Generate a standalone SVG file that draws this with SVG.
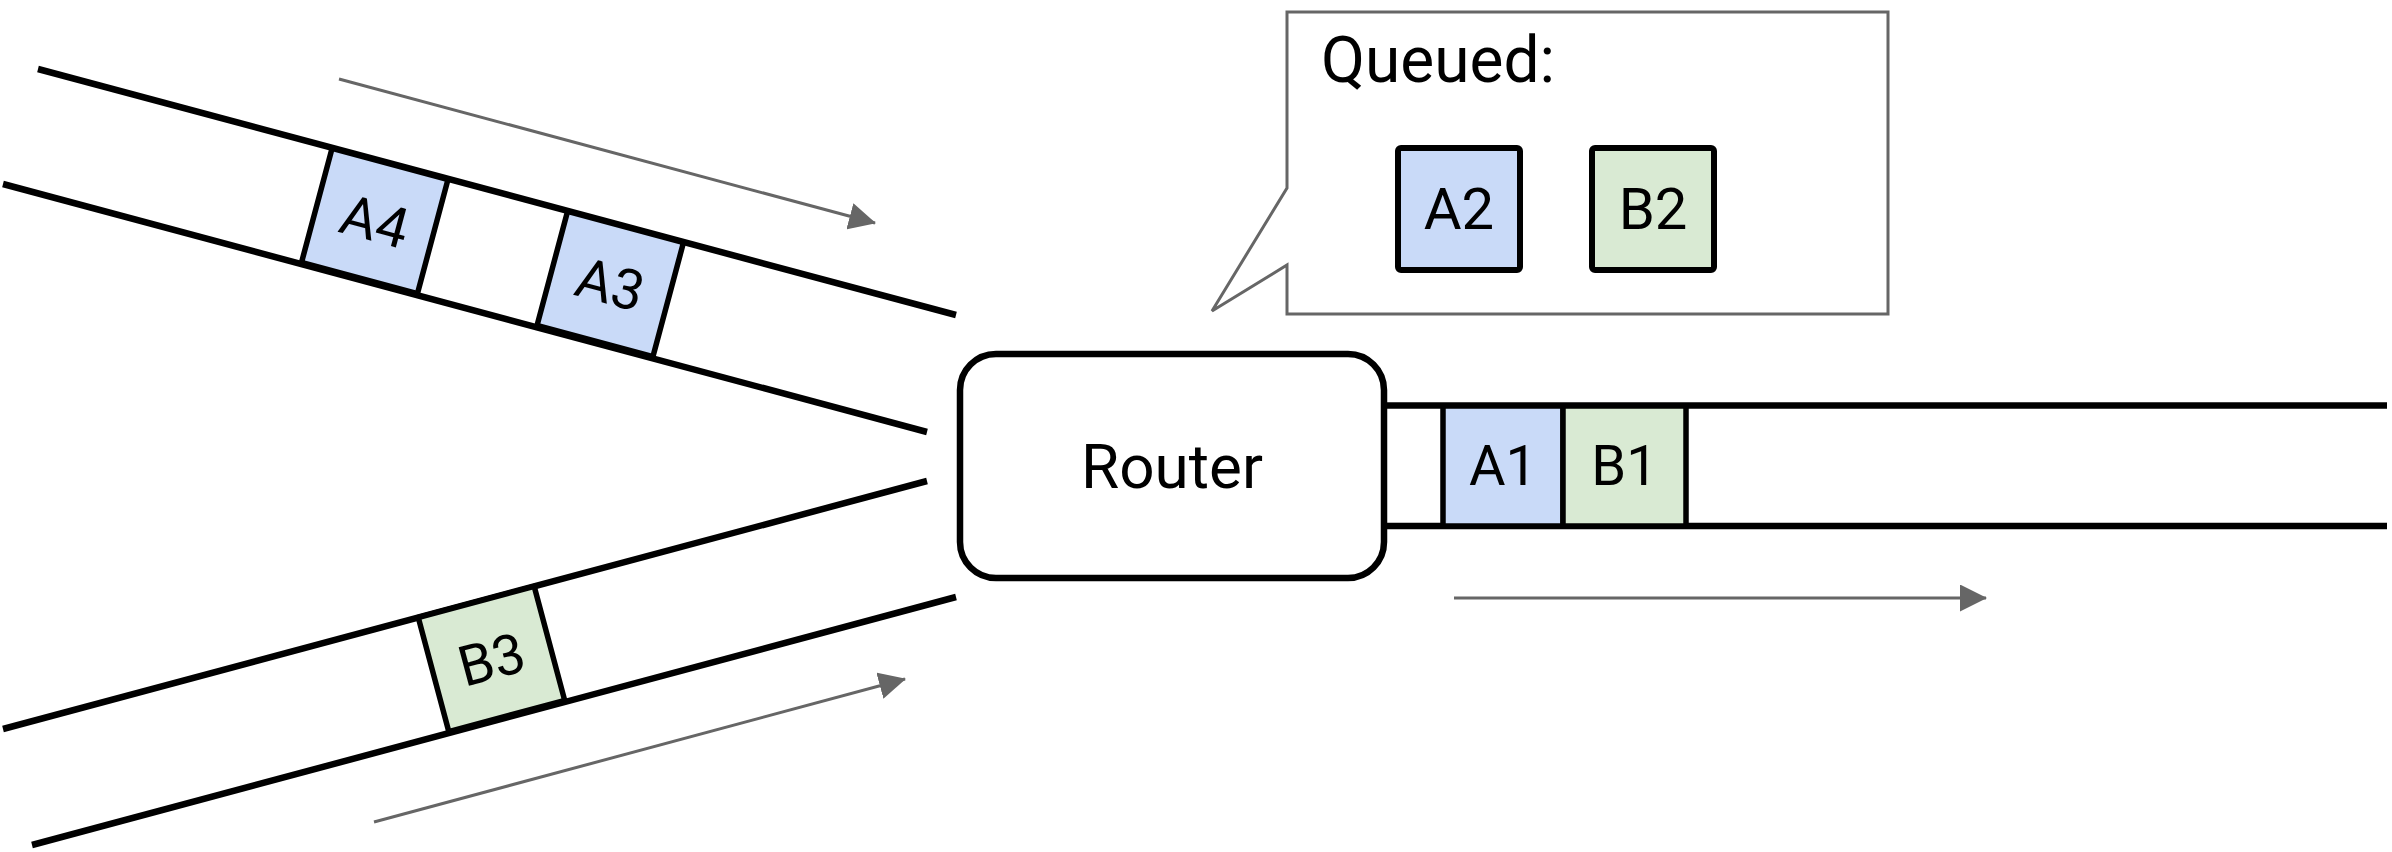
<svg xmlns="http://www.w3.org/2000/svg" width="2392" height="852" viewBox="0 0 2392 852">
<style>
.wire{stroke:#000;stroke-width:6.5;fill:none}
.pktA{fill:#c9daf8;stroke:#000;stroke-width:5.5}
.pktB{fill:#d9ead3;stroke:#000;stroke-width:5.5}
.lbl{font-family:Roboto,"Liberation Sans",sans-serif;font-size:56px;fill:#000;text-anchor:middle}
.flow{stroke:#666;stroke-width:3;fill:none;marker-end:url(#ah)}
</style>
<defs>
<marker id="ah" markerUnits="userSpaceOnUse" markerWidth="27" markerHeight="27" refX="26" refY="13.5" orient="auto">
<path d="M0,0 L27,13.5 L0,27 Z" fill="#666"/>
</marker>
</defs>
<rect width="2392" height="852" fill="#fff"/>
<g id="links">
<line class="wire" x1="38" y1="69" x2="956" y2="315"/>
<line class="wire" x1="3" y1="184" x2="927" y2="432"/>
<line class="wire" x1="3" y1="729" x2="927" y2="481"/>
<line class="wire" x1="32" y1="845" x2="956" y2="597"/>
<line class="wire" x1="1386" y1="405.5" x2="2387" y2="405.5"/>
<line class="wire" x1="1386" y1="526" x2="2387" y2="526"/>
</g>
<g id="connectors">
<line class="flow" x1="339" y1="79" x2="875" y2="223"/>
<line class="flow" x1="374" y1="822" x2="905" y2="679"/>
<line class="flow" x1="1454" y1="598" x2="1986" y2="598"/>
</g>
<g id="pkt-A4" transform="translate(374.75,221) rotate(15)">
<rect class="pktA" x="-60" y="-59" width="120" height="118"/>
<text class="lbl" x="0" y="20">A4</text>
</g>
<g id="pkt-A3" transform="translate(610.25,284) rotate(15)">
<rect class="pktA" x="-60" y="-59" width="120" height="118"/>
<text class="lbl" x="0" y="20">A3</text>
</g>
<g id="pkt-B3" transform="translate(491.5,659) rotate(-15)">
<rect class="pktB" x="-60" y="-59" width="120" height="118"/>
<text class="lbl" x="0" y="20">B3</text>
</g>
<g id="router">
<rect x="960" y="354" width="424" height="224" rx="36" ry="36" fill="#fff" stroke="#000" stroke-width="6.5"/>
<text class="lbl" x="1172" y="488" style="font-size:62px">Router</text>
</g>
<g id="pkt-A1">
<rect class="pktA" x="1443" y="406" width="120" height="120"/>
<text class="lbl" x="1503" y="485">A1</text>
</g>
<g id="pkt-B1">
<rect class="pktB" x="1563" y="406" width="123" height="120"/>
<text class="lbl" x="1624.5" y="485">B1</text>
</g>
<g id="callout">
<path d="M1287,188 L1287,12 L1888,12 L1888,314 L1287,314 L1287,265 L1212,311 Z" fill="#fff" stroke="#666" stroke-width="3" stroke-linejoin="miter"/>
<text x="1321" y="82" style="font-family:Roboto,'Liberation Sans',sans-serif;font-size:64px" fill="#000">Queued:</text>
</g>
<g id="pkt-A2">
<rect x="1398" y="148" width="122" height="122" rx="3" fill="#c9daf8" stroke="#000" stroke-width="6"/>
<text class="lbl" x="1459" y="229" style="font-size:58px">A2</text>
</g>
<g id="pkt-B2">
<rect x="1592" y="148" width="122" height="122" rx="3" fill="#d9ead3" stroke="#000" stroke-width="6"/>
<text class="lbl" x="1653" y="229" style="font-size:58px">B2</text>
</g>
</svg>
